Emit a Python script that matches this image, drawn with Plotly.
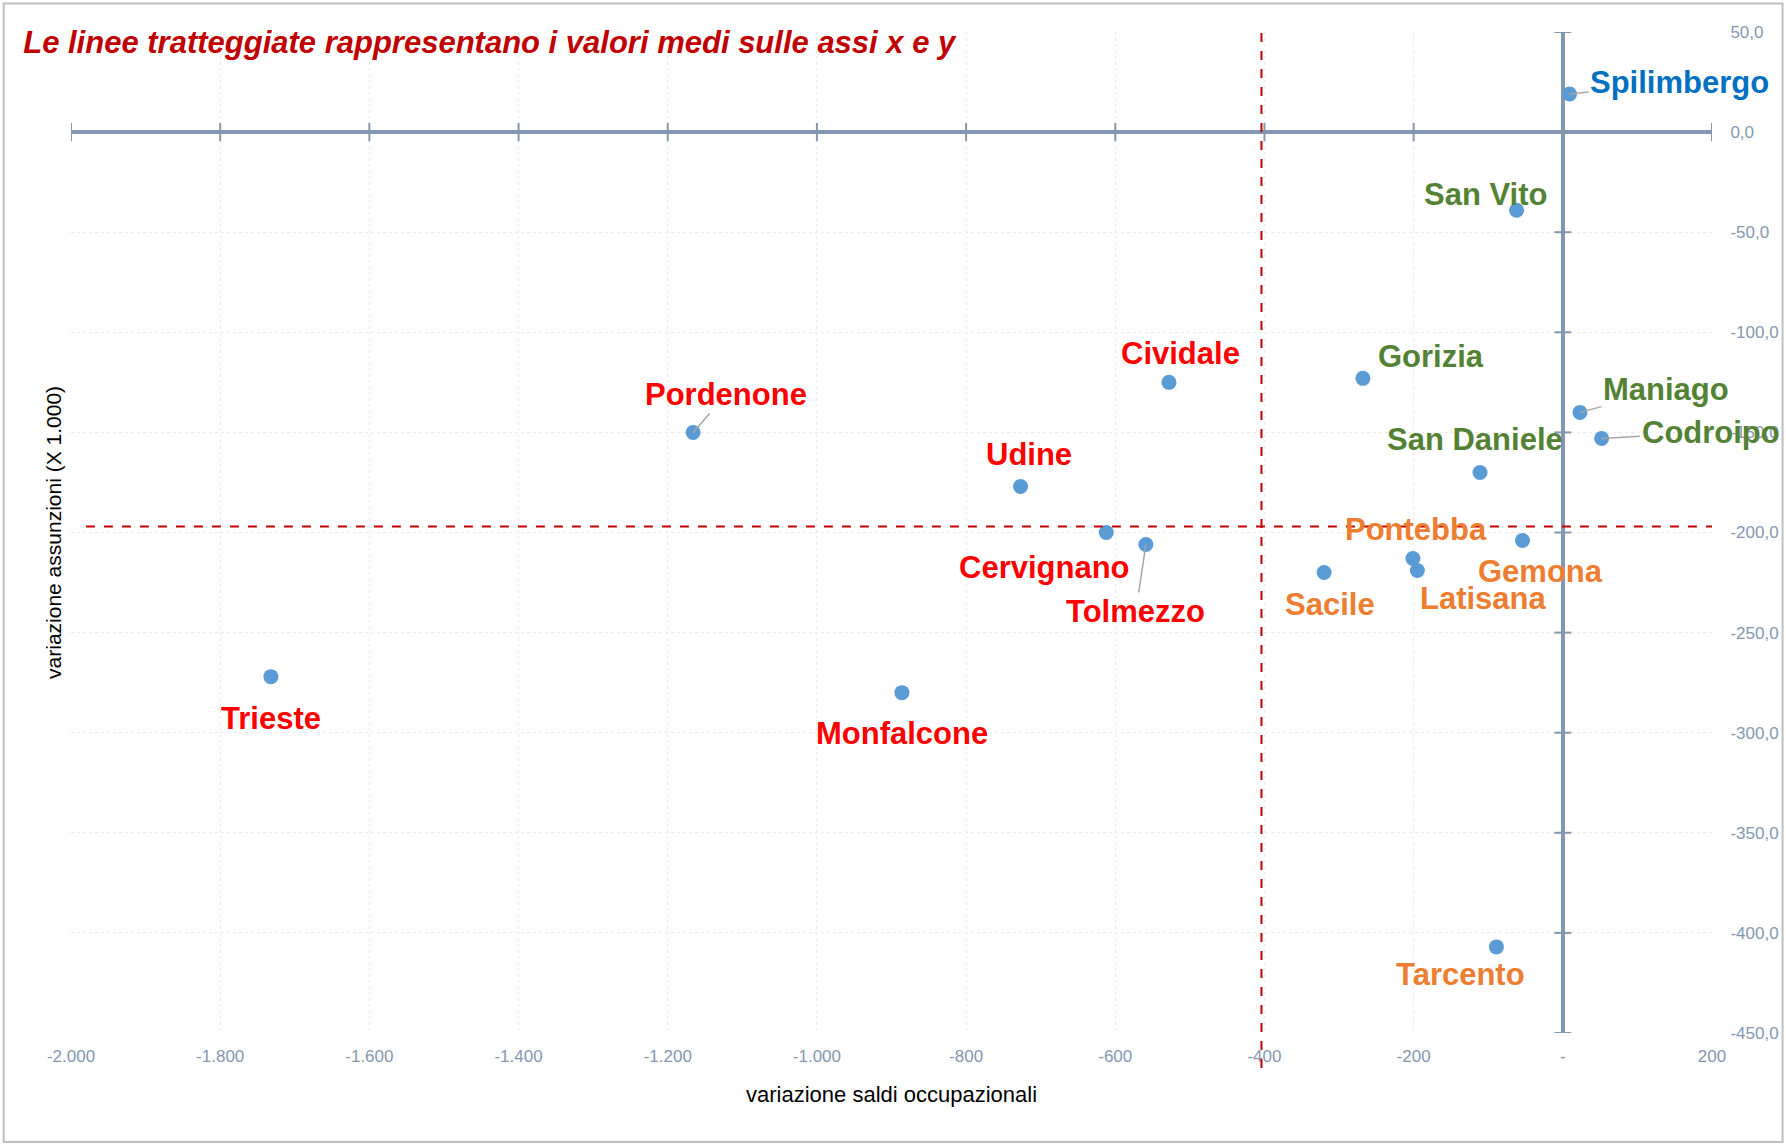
"""Scatter: variazione saldi occupazionali vs variazione assunzioni per comune."""

import plotly.graph_objects as go

# --- data -------------------------------------------------------------------
comuni = [
    "Spilimbergo", "San Vito", "Gorizia", "Maniago", "Codroipo", "San Daniele",
    "Pontebba", "Gemona", "Latisana", "Sacile", "Tarcento", "Cividale",
    "Udine", "Cervignano", "Tolmezzo", "Pordenone", "Trieste", "Monfalcone",
]
saldi = [9, -62, -268, 23, 52, -111, -201, -54, -195, -320, -89, -528,
         -727, -612, -559, -1166, -1732, -886]
assunzioni = [19, -39, -123, -140, -153, -170, -213, -204, -219, -220, -407, -125,
              -177, -200, -206, -150, -272, -280]
gruppo = ["blu", "verde", "verde", "verde", "verde", "verde",
          "arancio", "arancio", "arancio", "arancio", "arancio", "rosso",
          "rosso", "rosso", "rosso", "rosso", "rosso", "rosso"]

media_saldi = -404
media_assunzioni = -197

x_ticks = [-2000, -1800, -1600, -1400, -1200, -1000, -800, -600, -400, -200, 0, 200]
x_labels = ["-2.000", "-1.800", "-1.600", "-1.400", "-1.200", "-1.000",
            "-800", "-600", "-400", "-200", "-", "200"]
y_ticks = [50, 0, -50, -100, -150, -200, -250, -300, -350, -400, -450]
y_labels = ["50,0", "0,0", "-50,0", "-100,0", "-150,0", "-200,0", "-250,0",
            "-300,0", "-350,0", "-400,0", "-450,0"]

# --- style ------------------------------------------------------------------
colori = {"blu": "#0070C0", "verde": "#548235", "arancio": "#ED7D31", "rosso": "#FF0000"}
axis_col = "#8497B0"
sans = "Liberation Sans, Arial, sans-serif"

# label offsets in pixels (dx, dy; dy positive = down), leader line flag
offsets = {
    "Spilimbergo": (110, -12, True),
    "San Vito": (-31, -16, False),
    "Gorizia": (68, -22, False),
    "Maniago": (86, -23, True),
    "Codroipo": (109, -6, True),
    "San Daniele": (-5, -33, False),
    "Pontebba": (3, -29, False),
    "Gemona": (18, 31, False),
    "Latisana": (66, 28, False),
    "Sacile": (6, 32, False),
    "Tarcento": (-36, 28, False),
    "Cividale": (12, -29, False),
    "Udine": (8, -32, False),
    "Cervignano": (-62, 35, False),
    "Tolmezzo": (-10, 67, True),
    "Pordenone": (33, -38, True),
    "Trieste": (0, 42, False),
    "Monfalcone": (0, 41, False),
}

fig = go.Figure()

# tick marks on the crossing axes
fig.add_trace(
    go.Scatter(
        x=x_ticks,
        y=[0] * len(x_ticks),
        mode="markers",
        marker={"symbol": "line-ns", "size": 13, "line": {"color": axis_col, "width": 2}},
        hoverinfo="skip",
        showlegend=False,
    ),
)
fig.add_trace(
    go.Scatter(
        x=[0] * len(y_ticks),
        y=y_ticks,
        mode="markers",
        marker={"symbol": "line-ew", "size": 12, "line": {"color": axis_col, "width": 2}},
        hoverinfo="skip",
        showlegend=False,
    ),
)

fig.add_trace(
    go.Scatter(
        x=saldi,
        y=assunzioni,
        mode="markers",
        marker={"color": "#5B9BD5", "size": 15},
        text=comuni,
        hovertemplate="%{text}<br>%{x}; %{y}<extra></extra>",
        showlegend=False,
    ),
)

for nome, xv, yv, g in zip(comuni, saldi, assunzioni, gruppo):
    dx, dy, leader = offsets[nome]
    font = {"family": sans, "size": 31, "color": colori[g], "weight": "bold"}
    if leader:
        fig.add_annotation(
            x=xv, y=yv, text=nome, font=font, showarrow=True,
            arrowhead=0, arrowwidth=1.5, arrowcolor="#A6A6A6", ax=dx, ay=dy,
        )
    else:
        fig.add_annotation(
            x=xv, y=yv, text=nome, font=font, showarrow=False,
            xshift=dx, yshift=-dy,
        )

# dashed mean lines
fig.add_shape(
    type="line", xref="x", yref="paper", x0=media_saldi, x1=media_saldi,
    y0=-0.035, y1=1, line={"color": "#C00000", "width": 2, "dash": "dash"},
    layer="above",
)
fig.add_shape(
    type="line", xref="x", yref="y", x0=-1980, x1=200,
    y0=media_assunzioni, y1=media_assunzioni,
    line={"color": "#C00000", "width": 2, "dash": "dash"}, layer="above",
)

# outer border
fig.add_shape(
    type="rect", xref="paper", yref="paper", x0=-0.041, x1=1.043, y0=-0.109, y1=1.0285,
    line={"color": "#BFBFBF", "width": 2}, layer="below",
)

# axis titles
fig.add_annotation(
    xref="paper", yref="paper", x=0.5, y=-0.0615, xanchor="center", yanchor="middle",
    text="variazione saldi occupazionali", showarrow=False,
    font={"family": sans, "size": 22, "color": "black"},
)
fig.add_annotation(
    xref="paper", yref="paper", x=-0.0107, y=0.5, xanchor="center", yanchor="middle",
    text="variazione assunzioni (X 1.000)", textangle=-90, showarrow=False,
    font={"family": sans, "size": 21, "color": "black"},
)

fig.update_layout(
    width=1786,
    height=1144,
    margin={"l": 71, "r": 74, "t": 32, "b": 111},
    paper_bgcolor="white",
    plot_bgcolor="white",
    title={
        "text": "Le linee tratteggiate rappresentano i valori medi sulle assi x e y",
        "x": 0.013, "xanchor": "left", "y": 0.963, "yanchor": "middle", "yref": "container",
        "font": {"family": sans, "size": 31, "color": "#C00000",
                 "weight": "bold", "style": "italic"},
    },
    font={"family": sans},
)
fig.update_xaxes(
    range=[-2000, 200],
    tickvals=x_ticks,
    ticktext=x_labels,
    ticks="outside", ticklen=8, tickcolor="rgba(0,0,0,0)",
    tickfont={"size": 17, "color": axis_col},
    showgrid=True, gridcolor="#EBEBEB", griddash="dot", gridwidth=1,
    zeroline=True, zerolinecolor=axis_col, zerolinewidth=4,
    showline=False, automargin=False,
)
fig.update_yaxes(
    range=[-450, 50],
    side="right",
    tickvals=y_ticks,
    ticktext=y_labels,
    ticks="outside", ticklen=14, tickcolor="rgba(0,0,0,0)",
    tickfont={"size": 17, "color": axis_col},
    showgrid=True, gridcolor="#EBEBEB", griddash="dot", gridwidth=1,
    zeroline=True, zerolinecolor=axis_col, zerolinewidth=4,
    showline=False, automargin=False,
)

fig.write_html(
    "out.html",
    config={"displayModeBar": False},
    post_script="document.body.style.margin = '0';",
)
